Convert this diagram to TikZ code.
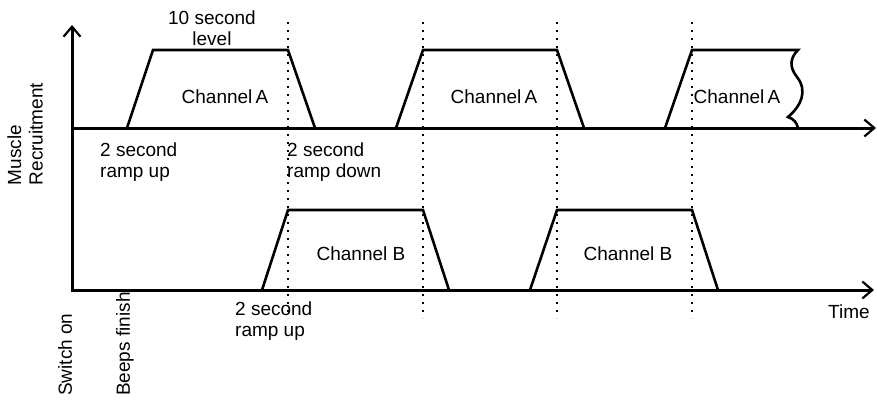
\documentclass[tikz,border=0pt]{standalone}
\usepackage{fontspec}
\setmainfont{Liberation Sans}
\usetikzlibrary{positioning, arrows.meta}

\begin{document}
\begin{tikzpicture}[
    x=1pt, y=-1pt,
    >={Straight Barb[length=10pt, width=17pt, line width=2.2pt]},
    every node/.style={font=\fontsize{19}{21.5}\selectfont, inner sep=0pt},
    axis/.style={->, line width=3pt},
    pulse/.style={line width=2.6pt, line join=miter},
    guide/.style={line width=2pt, dash pattern=on 2pt off 6pt},
    chlabel/.style={anchor=center},
    note/.style={align=left, anchor=west},
    mark label/.style={rotate=90, anchor=west},
]
\useasboundingbox (0,0) rectangle (877,400);
\coordinate (origin) at (72,290);
\coordinate (ytop) at (72,25);
\coordinate (abase) at (72,128);
\coordinate (aend) at (876,128);
\coordinate (bend) at (874,290);
\draw[guide] (288,22) -- (288,318);
\draw[guide] (423,22) -- (423,318);
\draw[guide] (557,22) -- (557,318);
\draw[guide] (692,22) -- (692,318);
\draw[axis] (origin) -- (ytop);
\draw[axis] (abase) -- (aend);
\draw[axis] ([xshift=-1.5pt]origin) -- (bend);
\draw[pulse] (127,128) -- (153,50) -- (288,50) -- (315,128);
\draw[pulse] (396,128) -- (423,50) -- (557,50) -- (584,128);
\draw[pulse] (665,128) -- (692,50) -- (798,50)
    .. controls (790,58) and (789,67) .. (797,77)
    .. controls (808,91) and (801,106) .. (788,117)
    .. controls (794,119) and (797,123) .. (798,128);
\draw[pulse] (262,290) -- (288,210) -- (423,210) -- (449,290);
\draw[pulse] (530,290) -- (557,210) -- (692,210) -- (718,290);
\node[chlabel] (cha_1) at (225,97) {Channel\,A};
\node[chlabel] (cha_2) at (494,97) {Channel\,A};
\node[chlabel] (cha_3) at (737,97) {Channel\,A};
\node[chlabel] (chb_1) at (361,254) {Channel B};
\node[chlabel] (chb_2) at (628,254) {Channel B};
\node[align=center] (level) at (212,28) {10 second\\level};
\node[note] (rampup_a) at (100,162) {2 second\\ramp up};
\node[note] (rampdown_a) at (287,162) {2 second\\ramp down};
\node[note] (rampup_b) at (235,321) {2 second\\ramp up};
\node[anchor=west] (time) at (828,312) {Time};
\node[rotate=90, align=left] (ylabel) at (25,134) {Muscle\\Recruitment};
\node[mark label] (switch) at (65,396) {Switch on};
\node[mark label] (beeps) at (125,396) {Beeps finish};
\end{tikzpicture}
\end{document}
